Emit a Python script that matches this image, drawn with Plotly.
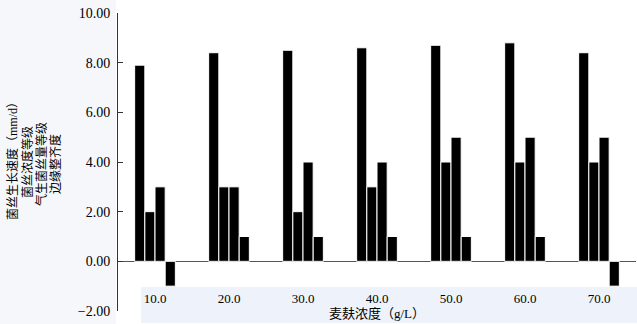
import plotly.graph_objects as go

categories = ["10.0", "20.0", "30.0", "40.0", "50.0", "60.0", "70.0"]
growth_rate = [7.9, 8.4, 8.5, 8.6, 8.7, 8.8, 8.4]
density_grade = [2, 3, 2, 3, 4, 4, 4]
aerial_grade = [3, 3, 4, 4, 5, 5, 5]
edge_grade = [-1, 1, 1, 1, 1, 1, -1]
series_names = ["菌丝生长速度（mm/d）", "菌丝浓度等级", "气生菌丝量等级", "边缘整齐度"]
y_ticks = [-2, 0, 2, 4, 6, 8, 10]

W, H = 637, 324
ML, MR, MT, MB = 118, 1, 13, 13
pw = W - ML - MR
ph = H - MT - MB

def px_x(px):
    return (px - ML) / pw

def px_y(py):
    return (H - MB - py) / ph

fig = go.Figure()
for name, vals in zip(series_names, [growth_rate, density_grade, aerial_grade, edge_grade]):
    fig.add_trace(go.Bar(
        x=categories, y=vals, name=name,
        marker=dict(color="#000000", line=dict(color="#ffffff", width=1)),
    ))

serif = "Liberation Serif, Times New Roman, serif"
cjk = "Liberation Serif, Noto Sans CJK SC, serif"

title_x = [12, 27, 41, 55]
title_y = [158, 162, 164, 164]
annotations = [
    dict(text=t, xref="paper", yref="paper", x=px_x(cx), y=px_y(cy), textangle=-90,
         showarrow=False, xanchor="center", yanchor="middle",
         font=dict(family=cjk, size=12, color="#000"))
    for t, cx, cy in zip(series_names, title_x, title_y)
]

fig.update_layout(
    width=W, height=H,
    margin=dict(l=ML, r=MR, t=MT, b=MB, autoexpand=False),
    paper_bgcolor="#ffffff", plot_bgcolor="rgba(0,0,0,0)",
    showlegend=False,
    barmode="group", bargap=0.45, bargroupgap=0,
    font=dict(family=serif, color="#000000"),
    xaxis=dict(
        type="category", range=[-0.5, 6.5], automargin=False,
        anchor="free", position=px_y(289),
        showline=False, showgrid=False, zeroline=False, ticks="",
        tickfont=dict(family=serif, size=13, color="#000"),
        title=dict(text="麦麸浓度（g/L）", font=dict(family=cjk, size=13, color="#000"), standoff=2),
    ),
    yaxis=dict(
        range=[-2, 10], tickvals=y_ticks, tickformat=".2f", automargin=False,
        showline=True, linecolor="#333333", linewidth=1,
        ticks="inside", ticklen=5, tickcolor="#333333",
        showgrid=False,
        zeroline=True, zerolinecolor="#555555", zerolinewidth=1.2,
        tickfont=dict(family=serif, size=14, color="#000"),
        ticklabelstandoff=4,
    ),
    shapes=[
        dict(type="rect", xref="paper", yref="paper", x0=px_x(0), x1=px_x(116), y0=px_y(324), y1=px_y(0),
             fillcolor="#f5f7fb", line=dict(width=0), layer="below"),
        dict(type="rect", xref="paper", yref="paper", x0=px_x(141), x1=px_x(637), y0=px_y(323), y1=px_y(287),
             fillcolor="#eef2fa", line=dict(width=0), layer="below"),
    ],
    annotations=annotations,
)

fig.write_html("out.html", config={"displayModeBar": False},
               post_script="document.body.style.margin='0';document.body.style.overflow='hidden';")
